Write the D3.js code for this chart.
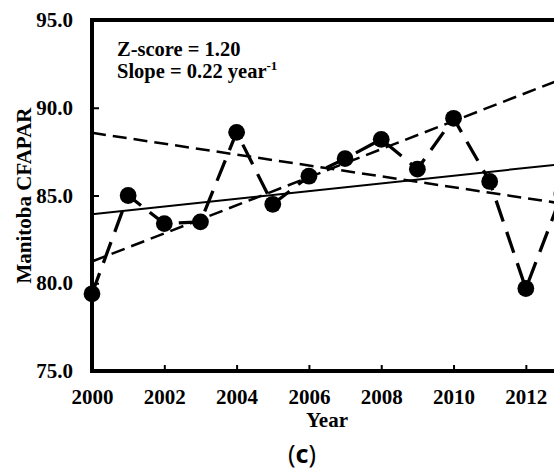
<!DOCTYPE html>
<html>
<head>
<meta charset="utf-8">
<script src="https://cdn.jsdelivr.net/npm/d3@7"></script>
<style>
  html, body { margin: 0; padding: 0; background: #fff; }
  svg { display: block; overflow: hidden; }
  .tick text { font-family: "Liberation Serif", serif; font-weight: bold; font-size: 21px; fill: #000; }
</style>
</head>
<body>
<div id="chart"></div>
<script>
'use strict';

// data
const years = [2000, 2001, 2002, 2003, 2004, 2005, 2006, 2007, 2008, 2009, 2010, 2011, 2012, 2013];
const cfapar = [79.4, 85.0, 83.4, 83.5, 88.6, 84.5, 86.1, 87.1, 88.2, 86.5, 89.4, 85.8, 79.7, 85.1];

// trend lines: [value at start year, slope per year]
const senTrend = [83.93, 0.22];
const riseTrend = [81.24, 0.80];
const fallTrend = [88.57, -0.31];

const xTicks = [2000, 2002, 2004, 2006, 2008, 2010, 2012];
const yTicks = [75, 80, 85, 90, 95];

const width = 554, height = 470;
const margin = { top: 20, left: 92, bottom: 99 };
const plotRight = 562; // plot frame runs past the window edge

const svg = d3.select('#chart').append('svg')
  .attr('width', width)
  .attr('height', height);

const x = d3.scaleLinear().domain([2000, 2013]).range([margin.left, plotRight]);
const y = d3.scaleLinear().domain([75, 95]).range([height - margin.bottom, margin.top]);

// axes, ticks pointing inward
svg.append('g')
  .attr('transform', `translate(0,${y(75)})`)
  .call(d3.axisBottom(x).tickValues(xTicks).tickFormat(d3.format('d'))
    .tickSizeInner(-6).tickSizeOuter(0).tickPadding(18))
  .call(g => g.select('.domain').remove())
  .call(g => g.selectAll('.tick line').attr('stroke-width', 2));

svg.append('g')
  .attr('transform', `translate(${margin.left},0)`)
  .call(d3.axisLeft(y).tickValues(yTicks).tickFormat(d3.format('.1f'))
    .tickSizeInner(-7).tickSizeOuter(0).tickPadding(19))
  .call(g => g.select('.domain').remove())
  .call(g => g.selectAll('.tick line').attr('stroke-width', 2));

// frame
svg.append('rect')
  .attr('x', x(2000))
  .attr('y', y(95))
  .attr('width', x(2013) - x(2000))
  .attr('height', y(75) - y(95))
  .attr('fill', 'none')
  .attr('stroke', '#000')
  .attr('stroke-width', 4);

// trend lines
const trendLine = d3.line().x(d => x(d[0])).y(d => y(d[1]));
const ends = t => [2000, 2013].map(yr => [yr, t[0] + t[1] * (yr - 2000)]);

svg.append('path')
  .datum(ends(senTrend))
  .attr('d', trendLine)
  .attr('fill', 'none')
  .attr('stroke', '#000')
  .attr('stroke-width', 2);

[riseTrend, fallTrend].forEach(t => {
  svg.append('path')
    .datum(ends(t))
    .attr('d', trendLine)
    .attr('fill', 'none')
    .attr('stroke', '#000')
    .attr('stroke-width', 2.5)
    .attr('stroke-dasharray', '14,7');
});

// data series
const series = years.map((yr, i) => [yr, cfapar[i]]);

svg.append('path')
  .datum(series)
  .attr('d', trendLine)
  .attr('fill', 'none')
  .attr('stroke', '#000')
  .attr('stroke-width', 3.3)
  .attr('stroke-dasharray', '22,11');

svg.selectAll('circle.pt')
  .data(series)
  .enter().append('circle')
  .attr('class', 'pt')
  .attr('cx', d => x(d[0]))
  .attr('cy', d => y(d[1]))
  .attr('r', 8.4)
  .attr('fill', '#000');

// annotations
const ann = svg.append('g')
  .style('font-family', '"Liberation Serif", serif')
  .style('font-weight', 'bold')
  .style('font-size', '20.5px');

ann.append('text').attr('x', 117).attr('y', 56).text('Z-score = 1.20');
const slope = ann.append('text').attr('x', 117).attr('y', 78);
slope.append('tspan').text('Slope = 0.22 year');
slope.append('tspan').attr('dy', -8).style('font-size', '13px').text('-1');

// axis titles
svg.append('text')
  .attr('x', 327)
  .attr('y', 427)
  .attr('text-anchor', 'middle')
  .style('font-family', '"Liberation Serif", serif')
  .style('font-weight', 'bold')
  .style('font-size', '21px')
  .text('Year');

svg.append('text')
  .attr('transform', `translate(31,${(y(75) + y(95)) / 2}) rotate(-90)`)
  .attr('text-anchor', 'middle')
  .style('font-family', '"Liberation Serif", serif')
  .style('font-weight', 'bold')
  .style('font-size', '21px')
  .text('Manitoba CFAPAR');

const cap = svg.append('text')
  .attr('x', 302)
  .attr('y', 463)
  .attr('text-anchor', 'middle')
  .style('font-family', '"Noto Sans", sans-serif')
  .style('font-size', '25px');
cap.append('tspan').text('(');
cap.append('tspan').style('font-weight', 'bold').text('c');
cap.append('tspan').text(')');
</script>
</body>
</html>
